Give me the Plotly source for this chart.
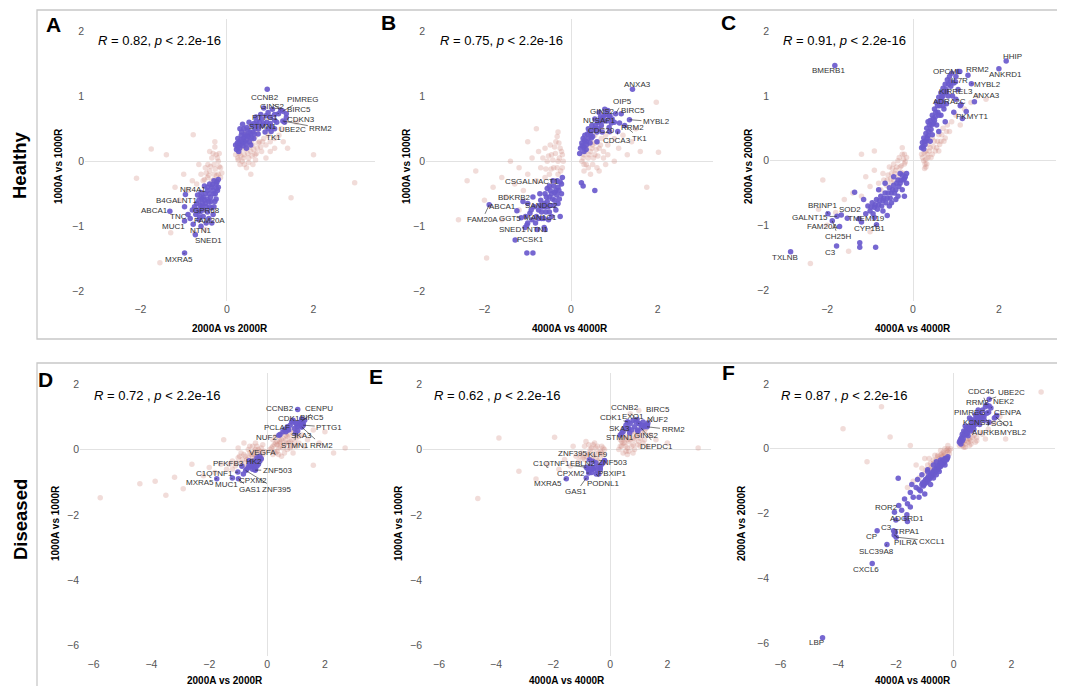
import plotly.graph_objects as go

# ---------------- DATA ----------------
R_values = ["0.82", "0.75", "0.91", "0.72", "0.62", "0.87"]
x_titles = ["2000A vs 2000R", "4000A vs 4000R", "4000A vs 4000R",
            "2000A vs 2000R", "4000A vs 4000R", "4000A vs 4000R"]
y_titles = ["1000A vs 1000R", "1000A vs 1000R", "2000A vs 2000R",
            "1000A vs 1000R", "1000A vs 1000R", "2000A vs 2000R"]
panel_letters = ["A", "B", "C", "D", "E", "F"]
row_labels = ["Healthy", "Diseased"]
ticks_top_x = [-2, 0, 2]
ticks_top_y = [-2, -1, 0, 1, 2]
ticks_bottom = [-6, -4, -2, 0, 2]

# Panel A
A_bg_x = [0.2,0.25,0.3,0.35,0.4,0.45,0.5,0.55,0.6,0.65,0.7,0.75,0.8,0.85,0.9,0.95,1.0,1.1,1.2,1.3,1.4,0.3,0.45,0.6,0.35,0.5,0.25,0.7,1.0,0.55,1.25,0.4,0.9,1.1,0.65,
          0.22,0.28,0.33,0.38,0.42,0.48,0.52,0.58,0.62,0.68,0.72,0.78,0.82,0.32,0.44,0.56,0.26,0.4,0.5,0.66,
          -0.15,-0.2,-0.25,-0.3,-0.35,-0.2,-0.3,-0.4,-0.45,-0.5,-0.55,-0.6,-0.35,-0.25,-0.15,-0.7,-0.8,-0.9,-1.0,-1.1,-0.4,-0.28,-0.65,-1.2,-0.75,-0.5,
          -0.12,-0.18,-0.22,-0.27,-0.32,-0.38,-0.42,-0.48,-0.52,-0.3,-0.24,-0.36,-0.18,-0.44,-0.28,
          -2.09,-1.55,1.48,2.95,-1.75,-0.78,-1.3,1.6,2.0,-1.4]
A_bg_y = [0.1,0.05,0.15,0.0,0.1,0.2,0.05,0.15,0.25,0.1,0.2,0.3,0.15,0.35,0.25,0.4,0.3,0.35,0.4,0.3,0.2,-0.05,-0.1,-0.05,0.3,0.35,0.25,0.45,0.15,-0.2,0.5,0.45,0.05,0.2,0.38,
          0.2,0.12,0.22,0.05,0.18,0.12,0.22,0.08,0.18,0.12,0.28,0.22,0.3,0.08,0.28,0.32,0.02,-0.05,-0.02,0.02,
          -0.1,0.0,0.1,-0.05,0.05,-0.2,-0.2,-0.15,-0.25,-0.1,-0.3,-0.2,-0.3,-0.3,-0.25,-0.35,-0.3,-0.45,-0.2,-0.6,0.15,0.22,-0.05,-0.4,-1.1,-1.05,
          -0.18,-0.08,0.05,-0.12,0.12,-0.08,-0.22,-0.18,-0.28,-0.28,-0.22,-0.38,0.12,-0.05,0.3,
          -0.26,-1.56,-0.56,-0.33,0.19,0.41,-1.1,0.6,0.1,0.1]
A_hi_x = [0.22,0.25,0.3,0.28,0.35,0.4,0.38,0.45,0.5,0.42,0.55,0.33,0.48,0.6,0.65,0.58,0.7,0.75,0.68,0.8,0.85,0.9,0.78,0.95,1.0,1.05,0.85,1.1,1.15,0.62,0.52,0.3,0.36,0.25,0.72,0.95,1.1,0.88,0.55,0.45,0.2,0.27,0.93,
          0.24,0.29,0.32,0.37,0.41,0.44,0.47,0.53,0.57,0.63,0.34,0.39,0.46,0.51,0.62,0.67,0.73,0.82,0.92,1.0,
          -0.2,-0.25,-0.3,-0.22,-0.35,-0.4,-0.3,-0.45,-0.5,-0.38,-0.55,-0.6,-0.42,-0.28,-0.5,-0.65,-0.58,-0.35,-0.7,-0.45,-0.62,-0.25,-0.2,-0.52,-0.32,-0.55,-0.68,-0.75,-0.48,-0.65,-0.6,-0.35,-0.42,-0.72,-0.8,-0.85,-0.58,
          -0.24,-0.27,-0.33,-0.37,-0.41,-0.46,-0.52,-0.57,-0.62,-0.48,-0.4,-0.3,-0.55,-0.68,-0.6,-0.23,-0.33,-0.45]
A_hi_y = [0.18,0.22,0.25,0.3,0.28,0.3,0.35,0.33,0.38,0.42,0.42,0.4,0.48,0.45,0.5,0.55,0.55,0.6,0.62,0.65,0.58,0.7,0.72,0.75,0.68,0.8,0.82,0.72,0.6,0.35,0.3,0.5,0.57,0.35,0.42,0.5,0.5,0.45,0.25,0.2,0.25,0.15,1.11,
          0.28,0.2,0.33,0.24,0.38,0.27,0.4,0.45,0.36,0.42,0.45,0.5,0.52,0.6,0.58,0.68,0.5,0.55,0.6,0.58,
          -0.28,-0.35,-0.3,-0.45,-0.4,-0.35,-0.5,-0.45,-0.5,-0.55,-0.55,-0.48,-0.62,-0.62,-0.65,-0.6,-0.7,-0.72,-0.65,-0.78,-0.78,-0.58,-0.4,-0.38,-0.82,-0.85,-0.52,-0.7,-0.95,-0.9,-1.0,-0.95,-0.88,-0.82,-0.75,-0.88,-0.58,
          -0.42,-0.5,-0.45,-0.62,-0.5,-0.58,-0.6,-0.65,-0.68,-0.7,-0.7,-0.7,-0.75,-0.75,-0.55,-0.32,-0.36,-0.4]
A_genes = ["CCNB2","PIMREG","GINS2","BIRC5","PTTG1","CDKN3","STMN1","UBE2C","RRM2","TK1",
           "NR4A1","B4GALNT1","ABCA1","GPR68","TNC","FAM20A","MUC1","NTN1","SNED1","MXRA5"]
A_gene_x = [1.24,1.29,1.19,1.37,1.10,1.37,1.02,1.33,1.29,1.02,-0.96,-0.98,-1.32,-0.67,-0.90,-0.63,-0.98,-0.78,-0.73,-0.98]
A_gene_y = [0.79,0.77,0.73,0.73,0.63,0.67,0.54,0.60,0.62,0.46,-0.51,-0.70,-0.77,-0.78,-0.82,-0.86,-0.92,-0.97,-1.13,-1.41]

# Panel B
B_bg_x = [0.25,0.3,0.35,0.4,0.45,0.5,0.55,0.6,0.65,0.7,0.75,0.8,0.85,0.9,1.0,1.1,1.2,1.3,1.4,1.5,0.3,0.45,0.6,0.8,1.0,0.7,0.4,1.6,0.35,0.55,
          0.28,0.33,0.38,0.42,0.48,0.52,0.58,0.62,0.68,0.32,0.45,0.55,0.3,0.4,0.5,0.65,0.75,0.85,
          -0.2,-0.25,-0.3,-0.35,-0.4,-0.45,-0.5,-0.55,-0.6,-0.7,-0.8,-0.9,-1.0,-1.1,-1.2,-1.3,-1.4,-1.5,-1.6,-1.8,-2.0,-2.2,-2.4,-0.3,-0.2,-0.6,-1.0,-0.75,-1.2,-1.6,-0.5,-0.3,-0.4,
          -0.18,-0.22,-0.27,-0.32,-0.36,-0.42,-0.46,-0.52,-0.28,-0.38,-0.24,-0.32,-0.48,-0.58,-0.65,
          1.97,2.02,-1.95,1.75,-2.6,-0.8]
B_bg_y = [0.0,0.1,0.2,0.05,0.15,0.25,0.1,0.3,0.2,0.35,0.15,0.4,0.25,0.45,0.35,0.2,0.4,0.1,0.3,0.5,-0.15,-0.2,-0.1,-0.05,0.0,0.5,0.35,0.15,-0.05,0.4,
          0.05,0.15,0.25,0.1,0.2,0.05,0.18,0.08,0.25,0.3,0.3,0.28,-0.05,-0.1,-0.05,-0.15,0.05,0.1,
          0.1,0.2,0.0,0.3,-0.1,0.1,-0.2,0.0,-0.25,-0.1,-0.3,0.05,-0.2,-0.45,-0.1,-0.35,0.0,-0.55,-0.25,-0.4,-0.6,-0.15,-0.3,-0.2,-0.1,0.2,0.3,0.15,-0.75,-0.9,-0.4,0.45,-0.3,
          0.0,0.15,0.05,-0.1,0.12,0.02,-0.12,0.08,0.28,0.22,-0.15,0.38,0.25,-0.12,0.05,
          0.91,0.14,-1.49,-0.4,-0.9,0.5]
B_hi_x = [0.22,0.25,0.3,0.35,0.4,0.32,0.45,0.5,0.55,0.48,0.6,0.62,0.7,0.68,0.75,0.8,0.85,0.78,0.9,0.95,1.0,0.55,0.4,0.28,0.6,0.72,0.88,0.2,0.35,0.65,0.24,0.28,0.55,
          0.26,0.31,0.36,0.38,0.43,0.47,0.52,0.57,0.63,0.66,0.72,0.76,0.82,0.44,0.3,
          -0.2,-0.25,-0.3,-0.22,-0.35,-0.4,-0.45,-0.5,-0.38,-0.55,-0.6,-0.48,-0.65,-0.7,-0.3,-0.58,-0.75,-0.8,-0.68,-0.85,-0.9,-0.95,-0.52,-0.62,-0.45,-0.78,-1.0,-0.35,-0.25,-0.55,-0.42,-0.72,-0.88,-1.05,-1.0,-0.6,-1.02,-0.88,
          -0.22,-0.28,-0.33,-0.38,-0.43,-0.48,-0.53,-0.57,-0.62,-0.68,-0.72,-0.4,-0.5,-0.32,-0.27,-0.63,-0.82,-0.92]
B_hi_y = [0.2,0.28,0.22,0.3,0.35,0.4,0.42,0.38,0.5,0.55,0.45,0.6,0.55,0.68,0.62,0.72,0.78,0.8,0.7,0.65,0.6,0.65,0.5,0.35,0.3,0.45,0.52,0.12,0.18,0.75,-0.33,-0.38,-0.45,
          0.24,0.32,0.26,0.42,0.46,0.36,0.48,0.56,0.5,0.62,0.66,0.7,0.62,0.28,0.15,
          -0.25,-0.32,-0.4,-0.5,-0.45,-0.38,-0.5,-0.55,-0.6,-0.62,-0.5,-0.68,-0.7,-0.6,-0.65,-0.78,-0.75,-0.85,-0.88,-0.7,-0.9,-0.8,-0.9,-1.02,-0.85,-1.05,-0.95,-0.75,-0.85,-0.42,-0.3,-0.5,-0.55,-0.85,-0.65,-1.05,-1.41,-1.41,
          -0.35,-0.45,-0.52,-0.48,-0.58,-0.45,-0.7,-0.55,-0.65,-0.78,-0.68,-0.68,-0.78,-0.3,-0.58,-0.88,-0.95,-0.75]
B_genes = ["ANXA3","OIP5","GINS2","BIRC5","MYBL2","NUSAP1","RRM2","CDC20","TK1","CDCA3",
           "CSGALNACT1","BDKRB2","ABCA1","SANDC2","FAM20A","GGT5","MAN1C1","SNED1","NTN1","PCSK1"]
B_gene_x = [1.42,1.03,0.88,1.16,1.35,0.93,1.12,0.89,1.24,1.08,-0.50,-1.11,-1.25,-0.60,-1.89,-1.15,-0.75,-1.06,-1.02,-1.29]
B_gene_y = [1.11,0.73,0.69,0.73,0.64,0.59,0.59,0.46,0.55,0.46,-0.38,-0.62,-0.76,-0.70,-0.67,-0.87,-0.88,-1.02,-0.98,-1.21]

# Panel C
C_bg_x = [0.2,0.25,0.3,0.35,0.28,0.4,0.45,0.5,0.55,0.6,0.65,0.7,0.75,0.8,0.9,1.0,1.1,1.2,1.35,1.5,0.35,0.45,0.3,0.6,0.85,1.7,0.4,
          0.22,0.26,0.3,0.33,0.38,0.42,0.47,0.52,0.57,0.62,0.67,0.72,0.32,0.27,0.36,0.78,
          -0.15,-0.2,-0.25,-0.3,-0.35,-0.4,-0.45,-0.5,-0.55,-0.6,-0.7,-0.8,-0.9,-1.0,-1.1,-1.2,-1.4,-1.6,-1.8,-2.0,-0.2,-0.35,-0.5,-0.25,
          -0.18,-0.22,-0.27,-0.32,-0.38,-0.42,-0.48,-0.52,-0.58,-0.62,-0.68,-0.28,-0.2,-0.75,-0.45,
          -2.39,-2.1,-1.2,-0.9,-1.5,-2.2,-1.0]
C_bg_y = [0.1,0.0,0.15,0.05,-0.05,0.2,0.1,0.3,0.2,0.4,0.3,0.5,0.35,0.55,0.6,0.7,0.55,0.8,0.9,1.0,0.25,0.35,-0.1,0.15,0.45,0.95,0.45,
          0.05,0.12,0.02,0.1,0.15,0.05,0.22,0.15,0.3,0.25,0.4,0.3,-0.05,-0.12,0.32,0.45,
          0.05,-0.05,0.1,-0.1,0.0,-0.15,-0.05,-0.2,-0.1,-0.3,-0.2,-0.35,-0.15,-0.4,-0.25,-0.55,-0.5,-0.6,-0.8,-1.0,-0.2,-0.25,-0.35,0.2,
          -0.02,0.02,-0.08,0.05,-0.1,-0.2,-0.12,-0.28,-0.22,-0.38,-0.3,-0.18,0.1,-0.45,-0.3,
          -1.59,-0.3,0.1,0.15,-1.4,-0.75,-1.1]
C_hi_x = [0.2,0.22,0.25,0.28,0.3,0.32,0.35,0.38,0.4,0.42,0.45,0.48,0.5,0.52,0.55,0.58,0.6,0.62,0.65,0.68,0.7,0.72,0.75,0.8,0.82,0.85,0.88,0.9,0.95,1.0,1.05,0.3,0.25,0.35,0.45,0.55,0.65,0.78,0.92,1.0,1.1,1.15,0.95,0.6,0.4,0.75,1.05,0.7,
          0.23,0.27,0.33,0.37,0.43,0.47,0.53,0.57,0.63,0.67,0.73,0.77,0.83,0.87,0.5,0.6,0.7,
          -0.15,-0.2,-0.25,-0.3,-0.35,-0.4,-0.45,-0.5,-0.55,-0.6,-0.65,-0.7,-0.75,-0.8,-0.85,-0.9,-0.95,-1.0,-1.05,-1.1,-0.5,-0.35,-0.25,-0.15,-0.7,-0.55,-0.4,-0.9,-1.15,-1.2,-0.3,-0.45,-0.65,-0.2,-0.6,-0.8,-1.24,-1.24,-0.87,-1.53,-1.36,
          -0.18,-0.23,-0.28,-0.33,-0.38,-0.43,-0.48,-0.53,-0.58,-0.63,-0.68,-0.73,-0.78,-0.83,-0.88,-0.93,-0.98]
C_hi_y = [0.2,0.28,0.35,0.25,0.42,0.5,0.38,0.55,0.62,0.48,0.7,0.58,0.8,0.68,0.9,0.75,0.98,0.85,1.05,0.92,1.12,0.8,1.18,1.25,1.0,1.3,1.15,1.35,1.2,1.3,1.1,0.3,0.18,0.6,0.4,0.55,0.7,0.88,1.0,0.95,0.85,0.65,0.75,0.45,0.3,0.6,1.38,1.0,
          0.22,0.3,0.35,0.45,0.55,0.65,0.75,0.85,0.92,0.98,1.05,1.1,1.18,1.22,0.62,0.7,0.85,
          -0.2,-0.28,-0.22,-0.35,-0.3,-0.45,-0.38,-0.5,-0.42,-0.58,-0.5,-0.62,-0.55,-0.68,-0.6,-0.72,-0.65,-0.78,-0.7,-0.82,-0.65,-0.55,-0.45,-0.35,-0.78,-0.7,-0.6,-0.88,-0.6,-0.95,-0.2,-0.25,-0.35,-0.55,-0.85,-0.45,-1.27,-1.34,-1.34,-0.89,-0.49,
          -0.25,-0.3,-0.3,-0.4,-0.35,-0.5,-0.45,-0.58,-0.5,-0.65,-0.58,-0.7,-0.62,-0.75,-0.68,-0.82,-0.72]
C_genes = ["HHIP","ANKRD1","RRM2","OPCML","IL7R","MYBL2","KIRREL3","ANXA3","ADRA2C","PKMYT1",
           "BMERB1","BRINP1","SOD2","GALNT15","TMEM119","FAM20A","CYP1B1","CH25H","C3","TXLNB"]
C_gene_x = [2.17,2.00,1.28,1.09,0.99,1.36,0.78,1.43,1.12,1.24,-1.82,-1.98,-1.67,-1.77,-1.26,-1.71,-0.85,-1.88,-1.78,-2.85]
C_gene_y = [1.54,1.42,1.32,1.38,1.22,1.19,1.06,0.91,0.87,0.76,1.47,-0.82,-0.84,-0.86,-0.90,-1.02,-0.99,-0.93,-1.32,-1.41]

# Panel D
D_bg_x = [0.1,0.2,0.3,0.4,0.5,0.6,0.7,0.8,0.9,1.0,1.1,1.2,1.4,1.6,1.8,0.3,0.5,0.7,0.9,0.2,0.4,0.6,1.0,1.3,0.35,0.55,0.75,0.25,0.45,0.65,0.85,
          0.15,0.25,0.35,0.45,0.55,0.65,0.75,0.85,0.95,0.4,0.6,0.8,1.0,0.3,0.5,0.7,0.2,1.1,0.9,0.45,0.35,0.65,
          -0.1,-0.2,-0.3,-0.4,-0.5,-0.6,-0.7,-0.8,-0.9,-1.0,-1.1,-1.2,-1.4,-1.6,-1.8,-2.0,-2.2,-0.3,-0.5,-0.2,-0.6,-0.8,-1.0,-0.4,-0.7,-0.15,-0.45,-0.65,-0.35,-0.9,
          -0.15,-0.25,-0.35,-0.45,-0.55,-0.65,-0.75,-0.85,-0.95,-1.05,-0.55,-0.4,-0.75,-0.3,-0.5,-1.3,-0.85,-1.2,
          -5.77,-3.87,-3.5,-3.2,-2.6,-2.9,1.6,2.7,2.0,-1.5,2.3,-4.4]
D_bg_y = [0.0,0.1,0.2,0.05,0.3,0.15,0.4,0.25,0.5,0.35,0.2,0.45,0.3,0.6,0.2,-0.1,-0.2,0.0,-0.1,0.3,0.4,0.55,0.65,0.1,0.15,0.05,0.2,-0.05,0.25,0.3,0.1,
          0.05,0.15,0.25,0.1,0.35,0.2,0.45,0.3,0.2,-0.15,-0.1,0.05,0.1,0.4,0.5,0.6,-0.15,0.4,0.6,0.2,-0.05,0.45,
          -0.05,0.05,-0.1,0.0,-0.2,-0.1,-0.3,-0.15,-0.4,-0.25,-0.5,-0.35,-0.6,-0.45,-0.7,-0.55,-0.8,-0.35,-0.45,-0.3,0.1,0.2,0.05,0.2,-0.55,0.15,-0.15,-0.25,-0.2,-0.1,
          -0.15,-0.05,0.1,-0.05,-0.15,0.0,-0.2,-0.3,-0.2,-0.4,-0.35,-0.25,-0.4,0.0,0.1,-0.45,-0.5,-0.6,
          -1.48,-0.97,-1.4,-0.85,-0.45,-1.2,-0.48,0.05,0.55,0.3,-0.1,-1.05]
D_hi_x = [0.45,0.55,0.6,0.7,0.8,0.85,0.9,1.0,1.05,1.1,1.15,1.2,1.25,1.3,0.95,0.75,1.2,0.65,
          -0.25,-0.3,-0.35,-0.4,-0.45,-0.5,-0.55,-0.6,-0.35,-0.45,-0.3,-0.25,-0.5,-0.65,-0.7,-0.4,-0.2]
D_hi_y = [0.46,0.55,0.62,0.7,0.75,0.85,0.9,0.8,0.7,0.75,0.85,0.7,0.8,0.9,0.65,0.6,0.95,0.55,
          -0.2,-0.3,-0.25,-0.4,-0.35,-0.45,-0.5,-0.4,-0.5,-0.55,-0.45,-0.35,-0.6,-0.55,-0.6,-0.6,-0.28]
D_genes = ["CCNB2","CENPU","CDK1","BIRC5","PCLAF","PTTG1","NUF2","SKA3","STMN1","RRM2",
           "VEGFA","PFKFB3","HK2","ZNF503","C1QTNF1","CPXM2","MXRA5","MUC1","GAS1","ZNF395"]
D_gene_x = [1.06,1.20,0.99,1.17,0.71,1.25,0.41,1.06,0.99,1.20,-0.62,-0.87,-0.62,-0.41,-1.01,-0.82,-1.74,-1.20,-0.99,-0.74]
D_gene_y = [1.23,0.87,0.82,0.82,0.61,0.75,0.44,0.58,0.51,0.69,-0.34,-0.51,-0.46,-0.63,-0.69,-0.75,-0.89,-0.87,-0.89,-0.64]

# Panel E
E_bg_x = [0.3,0.4,0.5,0.6,0.7,0.8,0.9,1.0,1.1,1.2,1.3,1.4,0.35,0.55,0.75,0.95,0.45,0.65,0.85,1.05,0.5,1.25,1.6,0.7,1.0,0.6,0.8,0.4,
          0.35,0.45,0.55,0.65,0.75,0.85,0.95,1.05,1.15,0.5,0.7,0.9,0.6,0.8,1.0,0.4,1.2,0.55,
          -0.2,-0.3,-0.4,-0.5,-0.6,-0.7,-0.8,-0.9,-1.0,-1.1,-1.2,-1.4,-1.6,-1.8,-2.2,-0.35,-0.55,-0.75,-0.45,-0.65,-0.25,-1.3,-0.85,
          -0.25,-0.35,-0.45,-0.55,-0.65,-0.75,-0.85,-0.95,-0.5,-0.7,-0.3,-0.6,-1.05,-0.9,
          -1.95,-3.9,-4.64,-3.2,3.08,-2.6,2.0]
E_bg_y = [0.0,0.1,0.2,0.05,0.3,0.15,0.4,0.25,0.5,0.3,0.1,0.45,0.3,0.4,0.55,0.6,-0.1,-0.05,0.0,0.1,0.6,0.65,0.3,1.1,1.2,0.3,0.35,0.25,
          0.1,0.2,0.1,0.25,0.1,0.3,0.15,0.35,0.2,0.35,0.45,0.5,-0.15,-0.1,0.45,0.4,0.55,-0.05,
          0.0,0.1,-0.1,0.05,-0.2,0.0,-0.15,-0.3,-0.1,-0.35,-0.2,-0.5,-0.3,-0.6,-0.45,-0.25,0.2,0.15,-0.35,-0.35,-0.15,0.1,0.25,
          0.05,-0.05,0.1,-0.1,0.05,-0.1,-0.2,-0.25,-0.25,-0.3,-0.1,0.15,-0.2,0.1,
          0.38,0.36,-1.5,-0.66,0.05,-0.9,0.2]
E_hi_x = [0.35,0.45,0.5,0.55,0.6,0.7,0.8,0.9,1.0,1.1,1.2,1.3,0.65,0.85,0.75,0.4,1.15,0.95,
          -0.2,-0.3,-0.35,-0.4,-0.45,-0.5,-0.55,-0.6,-0.7,-0.75,-0.8,-0.65,-0.4,-0.25]
E_hi_y = [0.45,0.55,0.65,0.75,0.85,0.8,0.9,0.85,0.8,0.75,0.7,0.75,0.65,0.7,0.6,0.5,0.85,0.6,
          -0.33,-0.45,-0.55,-0.5,-0.65,-0.4,-0.55,-0.6,-0.5,-0.65,-0.58,-0.7,-0.75,-0.4]
E_genes = ["CCNB2","BIRC5","CDK1","EXO1","NUF2","SKA3","RRM2","STMN1","GINS2","DEPDC1",
           "ZNF395","KLF9","ZNF503","C1QTNF1","FBLN2","CPXM2","PBXIP1","MXRA5","PODNL1","GAS1"]
E_gene_x = [0.94,1.32,0.62,1.01,1.24,0.62,1.29,0.68,0.97,1.09,-0.73,-0.61,-0.20,-0.84,-0.61,-0.75,-0.35,-1.54,-0.49,-0.84]
E_gene_y = [0.92,0.82,0.85,0.79,0.75,0.63,0.70,0.51,0.56,0.66,-0.31,-0.36,-0.34,-0.54,-0.58,-0.72,-0.61,-0.89,-0.75,-0.87]

# Panel F
F_bg_x = [0.2,0.3,0.4,0.5,0.6,0.7,0.8,0.9,1.0,1.2,1.4,0.35,0.55,0.75,1.1,1.6,0.25,0.45,
          0.25,0.35,0.45,0.55,0.65,0.4,0.6,0.8,0.3,0.5,
          -0.1,-0.2,-0.3,-0.35,-0.4,-0.5,-0.55,-0.6,-0.7,-0.8,-0.9,-1.0,-1.1,-1.2,-1.4,-1.6,-0.25,-0.45,-0.65,-0.85,-1.0,-1.3,-0.2,-0.15,
          -0.15,-0.25,-0.3,-0.4,-0.45,-0.5,-0.6,-0.65,-0.7,-0.75,-0.85,-0.95,-0.2,-0.35,-0.55,-0.8,
          -3.83,-2.2,3.03,-2.5,-1.5,-3.0,1.8]
F_bg_y = [0.1,0.2,0.15,0.3,0.25,0.4,0.35,0.5,0.45,0.6,0.8,0.05,0.1,0.2,0.3,1.0,0.3,0.45,
          0.15,0.2,0.25,0.3,0.35,0.05,0.15,0.25,0.1,0.2,
          0.0,-0.1,0.0,-0.2,-0.15,-0.3,-0.2,-0.45,-0.35,-0.6,-0.5,-0.75,-0.6,-0.9,-1.0,-1.2,-0.25,-0.05,-0.2,-0.3,-0.3,-0.5,0.1,-0.15,
          -0.05,-0.05,-0.15,-0.25,-0.2,-0.4,-0.35,-0.5,-0.45,-0.55,-0.65,-0.65,0.0,-0.1,-0.25,-0.45,
          0.62,0.36,1.75,1.3,0.1,-0.4,0.3]
F_hi_x = [0.2,0.25,0.3,0.35,0.4,0.45,0.5,0.55,0.6,0.65,0.7,0.75,0.8,0.85,0.9,0.95,1.0,1.05,1.1,0.3,0.45,0.6,0.75,0.5,0.7,0.9,0.4,0.55,0.85,1.15,0.25,0.35,
          0.22,0.28,0.33,0.38,0.43,0.48,0.53,0.58,0.63,0.68,0.73,0.78,0.83,0.88,0.93,0.98,
          -0.2,-0.25,-0.3,-0.35,-0.4,-0.45,-0.5,-0.55,-0.6,-0.65,-0.7,-0.75,-0.8,-0.85,-0.9,-0.95,-1.0,-1.05,-1.1,-1.2,-1.3,-1.4,-1.5,-1.6,-1.7,-1.8,-1.9,-2.0,-1.25,-1.1,-0.9,-0.7,-1.45,-1.0,-1.5,-1.65,-1.6,-1.92,-0.6,-0.8,-1.2,-0.45,-0.3,
          -0.22,-0.27,-0.32,-0.37,-0.42,-0.47,-0.52,-0.57,-0.62,-0.67,-0.72,-0.77,-0.82,-0.87,-0.92,-0.97,-1.02,-1.07,-0.5,-0.7,-0.9,-0.6,-1.15]
F_hi_y = [0.2,0.3,0.25,0.4,0.5,0.45,0.6,0.7,0.55,0.8,0.9,0.75,1.0,0.85,1.1,0.95,1.2,1.0,1.3,0.45,0.65,0.9,1.05,0.4,0.6,0.75,0.7,0.95,1.2,1.1,0.15,0.55,
          0.25,0.35,0.3,0.45,0.55,0.5,0.65,0.6,0.75,0.7,0.85,0.8,0.95,0.9,1.05,1.0,
          -0.25,-0.35,-0.3,-0.45,-0.4,-0.55,-0.5,-0.65,-0.6,-0.75,-0.7,-0.85,-0.8,-0.95,-0.9,-1.05,-1.0,-1.15,-1.1,-1.25,-1.2,-1.5,-1.35,-1.7,-1.55,-1.9,-1.75,-2.2,-0.95,-0.8,-0.65,-0.5,-1.1,-1.4,-1.8,-2.15,-2.25,-0.91,-0.4,-1.1,-1.5,-0.35,-0.5,
          -0.3,-0.3,-0.4,-0.35,-0.5,-0.45,-0.6,-0.55,-0.7,-0.65,-0.8,-0.75,-0.9,-0.85,-1.0,-0.95,-1.1,-1.05,-0.7,-0.9,-0.7,-0.8,-1.3]
F_genes = ["CDC45","UBE2C","RRM2","NEK2","PIMREG","CENPA","KCNS3","SGO1","AURKB","MYBL2",
           "ROR2","ADGRD1","C3","TRPA1","CP","PILRA","CXCL1","SLC39A8","CXCL6","LBP"]
F_gene_x = [1.14,1.23,1.23,1.29,1.21,1.49,1.06,1.41,1.23,1.46,-2.05,-1.62,-2.08,-2.02,-2.65,-2.06,-1.99,-2.31,-2.82,-4.54]
F_gene_y = [1.36,1.53,1.32,1.26,1.13,1.03,0.88,0.95,0.82,0.98,-1.96,-2.04,-2.53,-2.58,-2.53,-2.66,-2.73,-2.96,-3.54,-5.84]

# ---------------- LAYOUT (label offsets in pixels, placement) ----------------
A_lab_dx = [-16,20,-6,13,-10,15,-8,8,38,2, 8,-8,-15,9,-10,10,-11,7,13,-6]
A_lab_dy = [-12,-12,-7,-4,-3,2,0,7,7,6, -5,-6,-1,-1,2,3,5,6,6,7]
B_lab_dx = [5,7,-7,12,27,-12,13,-8,15,-1, -17,-8,-14,-4,-7,-11,2,-13,11,15]
B_lab_dy = [-5,-12,-5,-3,2,-2,5,-1,13,9, -4,-4,-4,-1,15,1,-1,2,5,0]
C_lab_dx = [6,7,10,-12,4,16,9,12,-12,6, -6,-5,9,-27,8,-17,-7,6,-6,-6]
C_lab_dy = [-5,6,-6,0,-1,1,-1,-6,-3,5, 5,-8,-5,1,0,0,4,16,6,6]
D_lab_dx = [-18,17,-7,11,-11,26,-12,4,-1,20, 13,-13,5,22,-23,10,-17,-6,12,31]
D_lab_dy = [-1,-13,-4,-5,-2,2,2,5,13,18, -8,-3,-3,0,1,6,4,7,11,19]
E_lab_dx = [-12,10,-17,-6,12,-8,26,-10,9,15, -17,5,8,-35,-10,-18,12,-18,7,-10]
E_lab_dy = [-12,-13,-4,-7,-6,-1,3,5,4,18, -6,-7,2,-4,-5,0,4,5,9,14]
F_lab_dx = [-5,22,-12,13,-19,11,-8,8,-3,18, -8,0,-7,12,-6,12,36,-10,-6,-6]
F_lab_dy = [-13,-7,-4,-6,0,-3,2,5,10,15, -5,4,-3,-1,6,8,4,7,6,5]

W, H = 1065, 686
def fx(p):
    return p / W
def fy(p):
    return 1 - p / H

panels = [
    dict(bgx=A_bg_x, bgy=A_bg_y, hix=A_hi_x, hiy=A_hi_y, g=A_genes, gx=A_gene_x, gy=A_gene_y,
         dx=A_lab_dx, dy=A_lab_dy, xd=(77, 367), yd=(11, 293), xr=(-3.28, 3.42), yr=(-2.15, 2.19),
         xt=ticks_top_x, yt=ticks_top_y, ytx=50, yty=158, rpos=(88, 33), let=(45, 16), sep=", "),
    dict(bgx=B_bg_x, bgy=B_bg_y, hix=B_hi_x, hiy=B_hi_y, g=B_genes, gx=B_gene_x, gy=B_gene_y,
         dx=B_lab_dx, dy=B_lab_dy, xd=(418, 705), yd=(11, 293), xr=(-3.35, 3.28), yr=(-2.15, 2.19),
         xt=ticks_top_x, yt=ticks_top_y, ytx=398, yty=158, rpos=(430, 33), let=(380, 14), sep=", "),
    dict(bgx=C_bg_x, bgy=C_bg_y, hix=C_hi_x, hiy=C_hi_y, g=C_genes, gx=C_gene_x, gy=C_gene_y,
         dx=C_lab_dx, dy=C_lab_dy, xd=(762, 1048), yd=(11, 293), xr=(-3.33, 3.33), yr=(-2.17, 2.19),
         xt=ticks_top_x, yt=ticks_top_y, ytx=740, yty=158, rpos=(773, 33), let=(720, 15), sep=", "),
    dict(bgx=D_bg_x, bgy=D_bg_y, hix=D_hi_x, hiy=D_hi_y, g=D_genes, gx=D_gene_x, gy=D_gene_y,
         dx=D_lab_dx, dy=D_lab_dy, xd=(72, 362), yd=(365, 648), xr=(-6.47, 3.56), yr=(-6.33, 2.35),
         xt=ticks_bottom, yt=ticks_bottom, ytx=47, yty=515, rpos=(84, 387), let=(37, 371), sep=" , "),
    dict(bgx=E_bg_x, bgy=E_bg_y, hix=E_hi_x, hiy=E_hi_y, g=E_genes, gx=E_gene_x, gy=E_gene_y,
         dx=E_lab_dx, dy=E_lab_dy, xd=(415, 703), yd=(365, 648), xr=(-6.56, 3.53), yr=(-6.33, 2.35),
         xt=ticks_bottom, yt=ticks_bottom, ytx=390, yty=515, rpos=(424, 387), let=(368, 368), sep=" , "),
    dict(bgx=F_bg_x, bgy=F_bg_y, hix=F_hi_x, hiy=F_hi_y, g=F_genes, gx=F_gene_x, gy=F_gene_y,
         dx=F_lab_dx, dy=F_lab_dy, xd=(762, 1047), yd=(365, 648), xr=(-6.36, 3.51), yr=(-6.40, 2.34),
         xt=ticks_bottom, yt=ticks_bottom, ytx=733, yty=515, rpos=(771, 387), let=(720, 364), sep=" , "),
]

FONT = "Liberation Sans, Arial, sans-serif"
BG_COLOR = "rgb(200,120,110)"
HI_COLOR = "rgb(106,90,205)"

fig = go.Figure()
annotations = []
layout_axes = {}

for i, p in enumerate(panels):
    n = "" if i == 0 else str(i + 1)
    xa, ya = "x" + n, "y" + n
    fig.add_trace(go.Scatter(x=p["bgx"], y=p["bgy"], mode="markers", xaxis=xa, yaxis=ya,
                             marker=dict(size=5.5, color=BG_COLOR, opacity=0.26, line=dict(width=0)),
                             showlegend=False, hoverinfo="skip"))
    fig.add_trace(go.Scatter(x=p["hix"] + p["gx"], y=p["hiy"] + p["gy"], mode="markers",
                             xaxis=xa, yaxis=ya,
                             marker=dict(size=5.5, color=HI_COLOR, opacity=0.92, line=dict(width=0)),
                             showlegend=False, hoverinfo="skip"))
    axis_common = dict(showgrid=False, showline=False, ticks="", zeroline=True,
                       zerolinecolor="#e2e2e2", zerolinewidth=1,
                       tickfont=dict(family=FONT, size=10.5, color="#555555"))
    layout_axes["xaxis" + n] = dict(axis_common, domain=[fx(p["xd"][0]), fx(p["xd"][1])],
                                    range=list(p["xr"]), tickvals=p["xt"], anchor=ya)
    layout_axes["yaxis" + n] = dict(axis_common, domain=[fy(p["yd"][1]), fy(p["yd"][0])],
                                    range=list(p["yr"]), tickvals=p["yt"], anchor=xa)
    for g, gx, gy, dx, dy in zip(p["g"], p["gx"], p["gy"], p["dx"], p["dy"]):
        annotations.append(dict(x=gx, y=gy, xref=xa, yref=ya, text=g, showarrow=True,
                                ax=dx, ay=dy, arrowhead=0, arrowwidth=0.6, arrowcolor="#222222",
                                standoff=0, startstandoff=0,
                                font=dict(family=FONT, size=8, color="#333333")))
    annotations.append(dict(x=fx(p["rpos"][0]), y=fy(p["rpos"][1]), xref="paper", yref="paper",
                            xanchor="left", yanchor="middle", showarrow=False,
                            text="<i>R</i> = " + R_values[i] + p["sep"] + "<i>p</i> &lt; 2.2e-16",
                            font=dict(family=FONT, size=13, color="black")))
    annotations.append(dict(x=fx(p["let"][0]), y=fy(p["let"][1]), xref="paper", yref="paper",
                            xanchor="center", yanchor="middle", showarrow=False,
                            text="<b>" + panel_letters[i] + "</b>",
                            font=dict(family=FONT, size=21, color="black")))
    xt_y = 320 if i < 3 else 672
    annotations.append(dict(x=fx((p["xd"][0] + p["xd"][1]) / 2), y=fy(xt_y), xref="paper", yref="paper",
                            xanchor="center", yanchor="middle", showarrow=False,
                            text="<b>" + x_titles[i] + "</b>",
                            font=dict(family=FONT, size=10, color="black")))
    annotations.append(dict(x=fx(p["ytx"]), y=fy(p["yty"]), xref="paper", yref="paper",
                            xanchor="center", yanchor="middle", showarrow=False, textangle=-90,
                            text="<b>" + y_titles[i] + "</b>",
                            font=dict(family=FONT, size=10, color="black")))

for lab, yc in zip(row_labels, [157, 512]):
    annotations.append(dict(x=fx(12), y=fy(yc), xref="paper", yref="paper",
                            xanchor="center", yanchor="middle", showarrow=False, textangle=-90,
                            text="<b>" + lab + "</b>",
                            font=dict(family=FONT, size=18.5, color="black")))

shapes = [
    dict(type="rect", xref="paper", yref="paper", x0=fx(29), x1=fx(1063), y0=fy(331), y1=fy(2),
         line=dict(color="#c8c8c8", width=1.3), fillcolor="rgba(0,0,0,0)", layer="below"),
    dict(type="rect", xref="paper", yref="paper", x0=fx(29), x1=fx(1063), y0=fy(683), y1=fy(355),
         line=dict(color="#c8c8c8", width=1.3), fillcolor="rgba(0,0,0,0)", layer="below"),
]

fig.update_layout(width=W, height=H, autosize=False, margin=dict(l=0, r=0, t=0, b=0),
                  paper_bgcolor="white", plot_bgcolor="white",
                  annotations=annotations, shapes=shapes, showlegend=False, **layout_axes)

fig.write_html("out.html")
